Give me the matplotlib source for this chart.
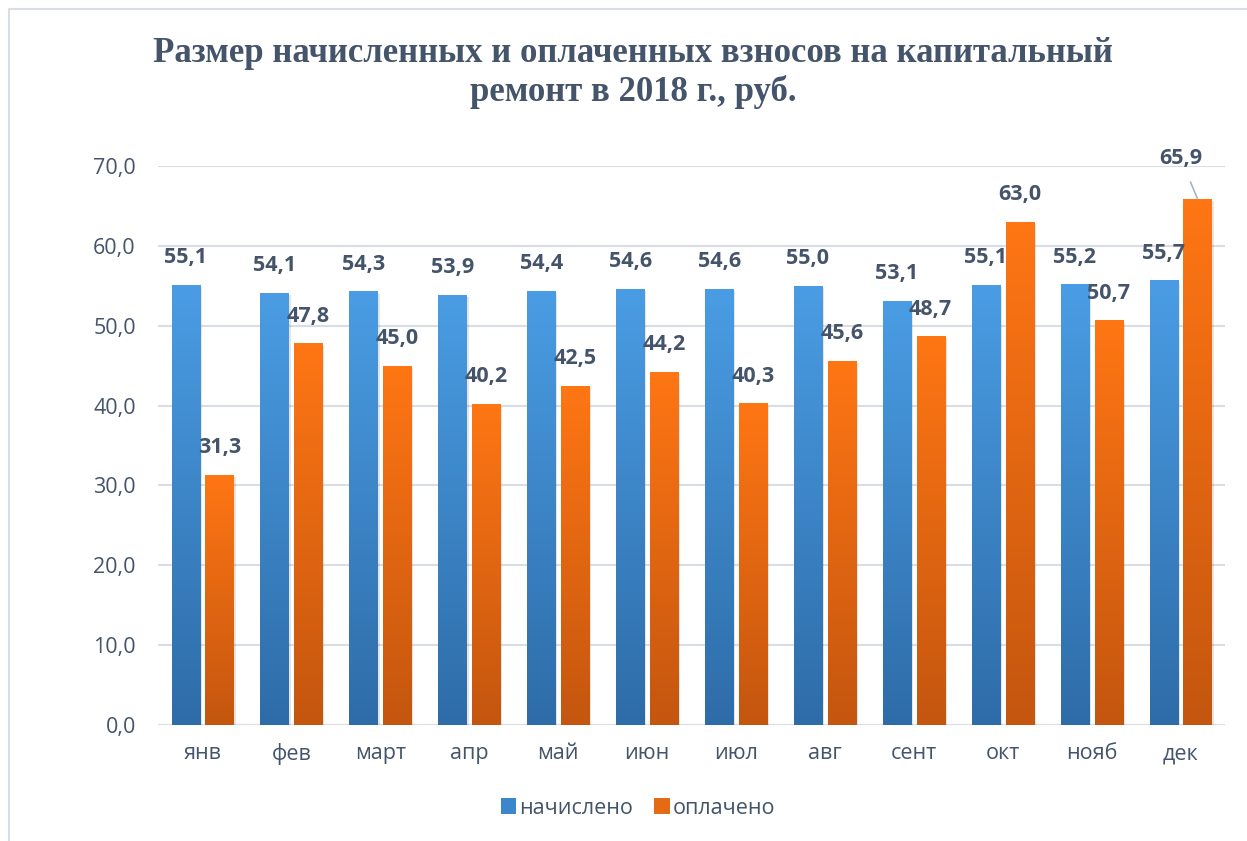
import matplotlib
matplotlib.use("Agg")
import matplotlib.pyplot as plt
import numpy as np
from matplotlib.colors import LinearSegmentedColormap
from matplotlib.patches import Rectangle
from matplotlib.lines import Line2D

months = ["янв", "фев", "март", "апр", "май", "июн", "июл", "авг", "сент", "окт", "нояб", "дек"]
accrued = [55.1, 54.1, 54.3, 53.9, 54.4, 54.6, 54.6, 55.0, 53.1, 55.1, 55.2, 55.7]
paid = [31.3, 47.8, 45.0, 40.2, 42.5, 44.2, 40.3, 45.6, 48.7, 63.0, 50.7, 65.9]
series_names = ["начислено", "оплачено"]
yticks = [0, 10, 20, 30, 40, 50, 60, 70]
title = "Размер начисленных и оплаченных взносов на капитальный\nремонт в 2018 г., руб."

TXT = "#44546A"
GRID = "#D9DEE6"
blue_top, blue_bot = "#4A9DE4", "#2E6CA8"
orng_top, orng_bot = "#FF7614", "#C4560F"

fig = plt.figure(figsize=(12.47, 8.41), dpi=100)
ax = fig.add_axes([158/1247, 1-725/841, (1225-158)/1247, (725-166)/841])

x = np.arange(len(months))
w = 0.315
off = 0.19

b1 = ax.bar(x - off, accrued, w, color="none", zorder=3)
b2 = ax.bar(x + off, paid, w, color="none", zorder=3)

def fill_gradient(bars, ctop, cbot):
    cmap = LinearSegmentedColormap.from_list("g", [cbot, ctop])
    grad = np.linspace(0, 1, 256).reshape(-1, 1)
    for r in bars:
        x0, y0 = r.get_x(), r.get_y()
        ww, hh = r.get_width(), r.get_height()
        sh = Rectangle((x0 + 0.025, y0 - 0.3), ww, hh, facecolor="#000000", alpha=0.10,
                       edgecolor="none", zorder=2.5)
        ax.add_patch(sh)
        im = ax.imshow(grad, cmap=cmap, origin="lower", aspect="auto",
                       extent=[x0, x0 + ww, y0, y0 + hh], zorder=3)
        im.set_clip_path(r)

fill_gradient(b1, blue_top, blue_bot)
fill_gradient(b2, orng_top, orng_bot)

FS = 15.5
ax.set_xlim(-0.5, len(months) - 0.5)
ax.set_ylim(0, 70)
ax.set_yticks(yticks)
ax.set_yticklabels([f"{v:.1f}".replace(".", ",") for v in yticks])
ax.set_xticks(x)
ax.set_xticklabels(months)
ax.tick_params(axis="both", length=0, labelsize=FS, colors=TXT)
ax.tick_params(axis="y", pad=16)
ax.tick_params(axis="x", pad=13)
for lab in ax.get_xticklabels() + ax.get_yticklabels():
    lab.set_fontfamily("Open Sans")
    lab.set_color(TXT)
ax.grid(axis="y", color=GRID, lw=1.5, zorder=0)
ax.set_axisbelow(True)
for s in ax.spines.values():
    s.set_visible(False)
ax.axhline(0, color=GRID, lw=1.5, zorder=1)

def fmt(v):
    return f"{v:.1f}".replace(".", ",")

for xi, v in zip(x - off, accrued):
    ax.annotate(fmt(v), (xi, v), xytext=(0, 19.5), textcoords="offset points",
                ha="center", va="center", fontsize=FS, fontweight="bold",
                color=TXT, family="Open Sans", zorder=5)
for i, (xi, v) in enumerate(zip(x + off, paid)):
    if i == len(paid) - 1:
        ax.annotate(fmt(v), (xi, v), xytext=(-12, 29), textcoords="offset points",
                    ha="center", va="center", fontsize=FS, fontweight="bold",
                    color=TXT, family="Open Sans", zorder=5,
                    arrowprops=dict(arrowstyle="-", color="#A6B4C8", lw=1.2,
                                    shrinkA=8, shrinkB=0))
    else:
        ax.annotate(fmt(v), (xi, v), xytext=(0, 19.5), textcoords="offset points",
                    ha="center", va="center", fontsize=FS, fontweight="bold",
                    color=TXT, family="Open Sans", zorder=5)

fig.text(633/1247, 1-37/841, title, ha="center", va="top", fontsize=25,
         fontweight="bold", family="Liberation Serif", color=TXT, linespacing=1.2)

handles = [Rectangle((0, 0), 1, 1, facecolor="#3C86CC"),
           Rectangle((0, 0), 1, 1, facecolor="#E56A14")]
leg = fig.legend(handles, series_names, loc="center", bbox_to_anchor=(638/1247, 1-808/841),
                 ncol=2, frameon=False, handlelength=0.7, handleheight=0.7,
                 handletextpad=0.15, columnspacing=1.0, prop={"family": "Open Sans", "size": FS})
for t in leg.get_texts():
    t.set_color(TXT)

fig.add_artist(Line2D([9/1247, 9/1247, 1], [0, 1-9/841, 1-9/841],
                      transform=fig.transFigure, color=GRID, lw=1.5))

fig.savefig("out.png", dpi=100)
